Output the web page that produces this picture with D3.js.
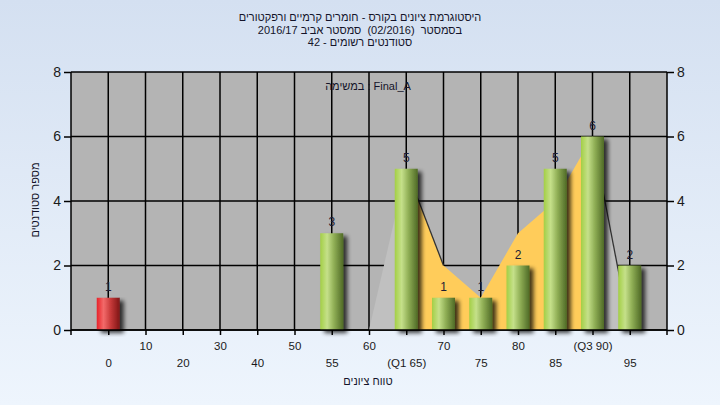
<!DOCTYPE html>
<html><head><meta charset="utf-8">
<script src="https://cdn.jsdelivr.net/npm/d3@7"></script>
<style>
html,body{margin:0;padding:0;}
svg{display:block;font-family:"Liberation Sans",Arial,sans-serif;}
</style></head>
<body>
<svg id="chart" width="720" height="405"></svg>
<script>
// ---- data ----
const categories = ["0","10","20","30","40","50","55","60","(Q1 65)","70","75","80","85","(Q3 90)","95"];
const counts     = [1,0,0,0,0,0,3,0,5,1,1,2,5,6,2];
const areaValues = [null,null,null,null,null,null,null,0,5,2,1,3,4,6,0];
const q1Index = 8, q3Index = 13;
const failBelowIndex = 6;
const yTicks = [0,2,4,6,8];
const titleLines = [
  "היסטוגרמת ציונים בקורס - חומרים קרמיים ורפקטורים",
  "בסמסטר  (02/2016)  סמסטר אביב 2016/17",
  "סטודנטים רשומים - 42"
];
const legendText = "במשימה : Final_A";
const yTitle = "מספר סטודנטים";
const xTitle = "טווח ציונים";

// ---- layout ----
const L = 71, R = 667, T = 72, B = 330;
const svg = d3.select("#chart");
const defs = svg.append("defs");

const bg = defs.append("linearGradient").attr("id","bg").attr("x1",0).attr("y1",0).attr("x2",0).attr("y2",1);
bg.append("stop").attr("offset","0%").attr("stop-color","#d4e0f1");
bg.append("stop").attr("offset","100%").attr("stop-color","#eef5fd");

function cyl(id, c0, c1, c2, c3){
  const g = defs.append("linearGradient").attr("id",id).attr("x1",0).attr("y1",0).attr("x2",1).attr("y2",0);
  g.append("stop").attr("offset","0%").attr("stop-color",c0);
  g.append("stop").attr("offset","30%").attr("stop-color",c1);
  g.append("stop").attr("offset","60%").attr("stop-color",c2);
  g.append("stop").attr("offset","100%").attr("stop-color",c3);
}
cyl("green","#a3cf45","#c5e08a","#8fae55","#4f6a26");
cyl("red","#e8242a","#f26a6a","#c83a3a","#7e1616");

const f = defs.append("filter").attr("id","shadow").attr("x","-30%").attr("y","-10%").attr("width","180%").attr("height","130%");
f.append("feGaussianBlur").attr("in","SourceAlpha").attr("stdDeviation",2.2).attr("result","b");
f.append("feOffset").attr("in","b").attr("dx",4).attr("dy",3).attr("result","o");
f.append("feComponentTransfer").attr("in","o").attr("result","s")
  .append("feFuncA").attr("type","linear").attr("slope",0.75);
const fm = f.append("feMerge");
fm.append("feMergeNode").attr("in","s");
fm.append("feMergeNode").attr("in","SourceGraphic");

svg.append("rect").attr("width",720).attr("height",405).attr("fill","url(#bg)");

const x = d3.scaleLinear().domain([-1, categories.length]).range([L, R]);
const y = d3.scaleLinear().domain([0, 8]).range([B, T]);

// plot background
svg.append("rect").attr("x",L).attr("y",T).attr("width",R-L).attr("height",B-T).attr("fill","#b4b4b4");

// grid
const grid = svg.append("g").attr("stroke","#000").attr("stroke-width",1.5);
yTicks.forEach(t => grid.append("line").attr("x1",L).attr("x2",R).attr("y1",y(t)).attr("y2",y(t)));
categories.forEach((c,i) => grid.append("line").attr("x1",x(i)).attr("x2",x(i)).attr("y1",T).attr("y2",B));

// area series
const pts = areaValues.map((v,i)=>({i,v})).filter(d=>d.v!==null);
const area = d3.area().x(d=>x(d.i)).y0(y(0)).y1(d=>y(d.v));
const seg = (a,b) => pts.filter(d=>d.i>=a && d.i<=b);
svg.append("path").attr("d",area(seg(pts[0].i,q1Index))).attr("fill","#c0c0c0");
svg.append("path").attr("d",area(seg(q1Index,q3Index))).attr("fill","#ffcc5a");
svg.append("path").attr("d",area(seg(q3Index,pts[pts.length-1].i))).attr("fill","#c0c0c0");
const line = d3.line().x(d=>x(d.i)).y(d=>y(d.v));
svg.append("path").attr("d",line(seg(q1Index,q1Index+1))).attr("fill","none").attr("stroke","#333").attr("stroke-width",1.3);
svg.append("path").attr("d",line(seg(q3Index,q3Index+1))).attr("fill","none").attr("stroke","#333").attr("stroke-width",1.3);

// bars
const bw = 23;
const bars = counts.map((v,i)=>({i,v})).filter(d=>d.v>0);
svg.append("g").selectAll("rect").data(bars).join("rect")
  .attr("x",d=>x(d.i)-bw/2).attr("width",bw)
  .attr("y",d=>y(d.v)).attr("height",d=>y(0)-y(d.v))
  .attr("fill",d=>d.i<failBelowIndex?"url(#red)":"url(#green)")
  .attr("filter","url(#shadow)");

// value labels
svg.append("g").selectAll("text").data(bars).join("text")
  .attr("x",d=>x(d.i)).attr("y",d=>y(d.v)-7)
  .attr("text-anchor","middle").attr("font-size",12).attr("fill","#1c1c34")
  .text(d=>d.v);

// axes
const ax = svg.append("g").attr("stroke","#000").attr("stroke-width",1.5);
ax.append("line").attr("x1",L).attr("x2",L).attr("y1",T).attr("y2",B+5);
ax.append("line").attr("x1",R).attr("x2",R).attr("y1",T).attr("y2",B+5);
ax.append("line").attr("x1",L).attr("x2",R).attr("y1",B).attr("y2",B);

const yl = d3.axisLeft(y).tickValues(yTicks).tickSize(7).tickPadding(3).tickFormat(d3.format("d"));
const yr = d3.axisRight(y).tickValues(yTicks).tickSize(7).tickPadding(3).tickFormat(d3.format("d"));
const gl = svg.append("g").attr("transform",`translate(${L},0)`).call(yl);
const gr = svg.append("g").attr("transform",`translate(${R},0)`).call(yr);
[gl,gr].forEach(g=>{
  g.select(".domain").remove();
  g.selectAll(".tick line").attr("stroke","#000").attr("stroke-width",1.5);
  g.selectAll(".tick text").attr("font-size",14).attr("fill","#1a1a1a").attr("font-family","Liberation Sans, Arial, sans-serif");
});

const xa = d3.axisBottom(x).tickValues(d3.range(categories.length)).tickSize(5).tickPadding(0).tickFormat(i=>categories[i]);
const gx = svg.append("g").attr("transform",`translate(0,${B})`).call(xa);
gx.select(".domain").remove();
gx.selectAll(".tick line").attr("stroke","#000").attr("stroke-width",1.5);
gx.selectAll(".tick text").attr("font-size",11.5).attr("fill","#1a1a1a")
  .attr("font-family","Liberation Sans, Arial, sans-serif")
  .attr("dy",null)
  .attr("y",(d)=> d%2===1 ? 20 : 37);

// titles
svg.append("g").selectAll("text").data(titleLines).join("text")
  .attr("x",360).attr("y",(d,i)=>21+i*12.5)
  .attr("text-anchor","middle").attr("font-size",11).attr("fill","#14142a")
  .style("white-space","pre")
  .text(d=>d);

svg.append("text").attr("x",368).attr("y",90).attr("text-anchor","middle")
  .attr("font-size",11).attr("fill","#14142a").text(legendText);

svg.append("text").attr("transform","translate(39,200) rotate(-90)").attr("text-anchor","middle")
  .attr("font-size",11).attr("fill","#14142a").text(yTitle);

svg.append("text").attr("x",368).attr("y",385).attr("text-anchor","middle")
  .attr("font-size",11).attr("fill","#14142a").text(xTitle);
</script>
</body></html>
